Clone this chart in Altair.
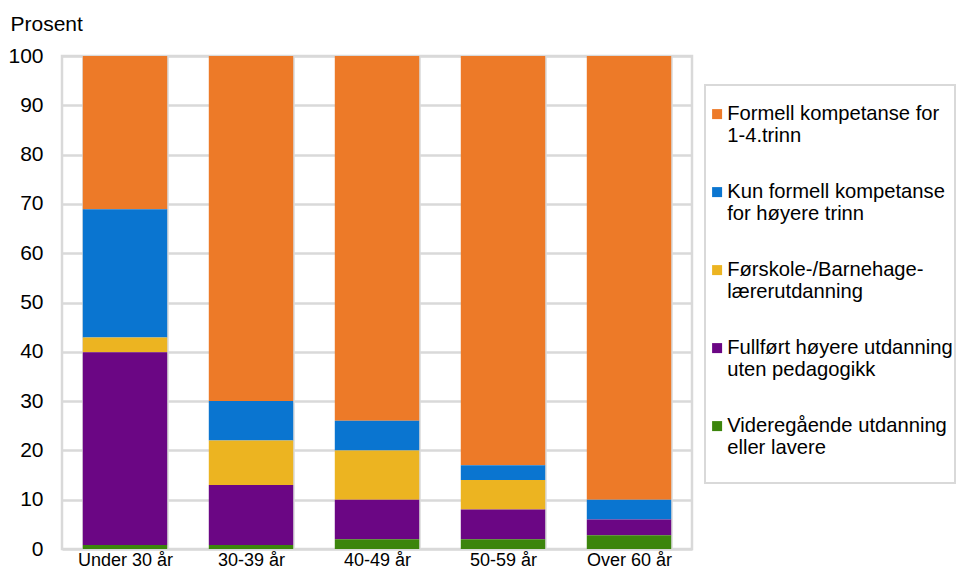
import altair as alt
import pandas as pd

groups = ["Under 30 år", "30-39 år", "40-49 år", "50-59 år", "Over 60 år"]
categories = [
    "Formell kompetanse for|1-4.trinn",
    "Kun formell kompetanse|for høyere trinn",
    "Førskole-/Barnehage-|lærerutdanning",
    "Fullført høyere utdanning|uten pedagogikk",
    "Videregående utdanning|eller lavere| ",
]
colors = ["#ED7A28", "#0A75D0", "#ECB421", "#6B0684", "#3C850C"]

formell = [31.1, 70.0, 74.0, 83.0, 90.0]
kun_formell = [26.0, 8.0, 6.0, 3.0, 4.0]
forskole = [3.0, 9.0, 10.0, 6.0, 0.0]
fullfort = [39.1, 12.2, 8.0, 6.0, 3.2]
videregaende = [0.8, 0.8, 2.0, 2.0, 2.8]

series = [formell, kun_formell, forskole, fullfort, videregaende]
rows = []
for ci, (cat, vals) in enumerate(zip(categories, series)):
    for g, v in zip(groups, vals):
        rows.append({"gruppe": g, "kategori": cat, "verdi": v, "ord": 4 - ci})
df = pd.DataFrame(rows)

FONT = "Liberation Sans"
GRID = "#d9d9d9"

chart = alt.Chart(df).mark_bar().encode(
    x=alt.X(
        "gruppe:N",
        sort=groups,
        title=None,
        scale=alt.Scale(paddingInner=0.33, paddingOuter=0.165),
        axis=alt.Axis(
            labelAngle=0, labelFontSize=18, labelPadding=2, ticks=False, domain=False,
            grid=True, gridColor=GRID, gridWidth=2.5, tickBand="extent",
            labelColor="#000000", labelFont=FONT,
        ),
    ),
    y=alt.Y(
        "verdi:Q",
        stack="zero",
        scale=alt.Scale(domain=[0, 100], nice=False),
        title="Prosent",
        axis=alt.Axis(
            values=list(range(0, 101, 10)), labelFontSize=21, labelPadding=19,
            ticks=False, domain=False, gridColor=GRID, gridWidth=2.5,
            labelColor="#000000", labelFont=FONT,
            titleAngle=0, titleAlign="left", titleBaseline="alphabetic",
            titleX=-52, titleY=-26, titleFontSize=21, titleFontWeight="normal",
            titleFont=FONT, titleColor="#000000",
        ),
    ),
    color=alt.Color(
        "kategori:N",
        scale=alt.Scale(domain=categories, range=colors),
        sort=categories,
        legend=alt.Legend(
            title=" ", titleFontSize=6, titlePadding=11,
            orient="none", legendX=643, legendY=29,
            labelExpr="split(datum.label, '|')",
            labelFontSize=20.2, labelFont=FONT, labelColor="#000000",
            labelLimit=400, labelBaseline="middle", labelOffset=0,
            symbolType="square", symbolSize=100, symbolStrokeWidth=0,
            symbolOpacity=1,
            rowPadding=35, padding=2,
            strokeColor=GRID, fillColor="#ffffff",
        ),
    ),
    order=alt.Order("ord:Q", sort="ascending"),
).properties(
    width=630, height=493,
    padding={"left": 54, "top": 48, "right": 265, "bottom": 19},
    autosize=alt.AutoSizeParams(type="none"),
).configure_view(
    stroke=GRID, strokeWidth=2.5
).configure_legend(
    strokeWidth=2
)

chart.save("out.html", embed_options={"renderer": "svg", "actions": False})
